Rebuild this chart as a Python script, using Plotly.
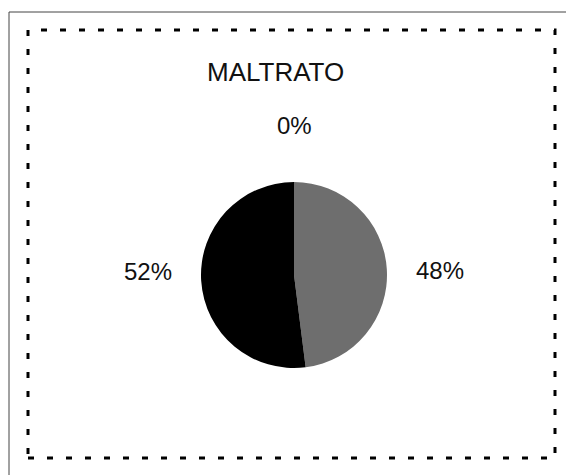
import math
import plotly.graph_objects as go

W, H = 574, 475
OFF = 8  # page body margin shifts the figure by 8px

# slice data, in drawing order clockwise from 12 o'clock
categories = ["Sin dato", "Sí", "No"]
values = [0, 48, 52]
colors = ["#ffffff", "#6e6e6e", "#000000"]
title_text = "MALTRATO"


def px(x):
    return (x - OFF) / W


def py(y):
    return 1 - (y - OFF) / H


# pie geometry in pixels
cx, cy, r = 294, 275, 93
label_r = 146

fig = go.Figure(go.Pie(
    labels=categories, values=values, sort=False, direction="clockwise",
    rotation=0, textinfo="none", hoverinfo="label+percent",
    marker=dict(colors=colors, line=dict(width=0)),
    domain=dict(x=[px(cx - r), px(cx + r)], y=[py(cy + r), py(cy - r)]),
    showlegend=False,
))

# percentage labels placed around the pie at each slice's mid-angle
total = sum(values)
start = 0.0
for v in values:
    frac = v / total
    mid = (start + frac / 2) * 2 * math.pi
    c = math.cos(mid)
    lx = cx + label_r * math.sin(mid)
    ly = cy - 4 - label_r * c * abs(c)
    fig.add_annotation(x=px(lx), y=py(ly), xref="paper", yref="paper",
                       xanchor="center", yanchor="middle",
                       text=f"{round(frac * 100)}%", showarrow=False,
                       font=dict(family="Liberation Sans, Arial", size=24, color="#111"))
    start += frac

fig.add_annotation(x=px(275), y=py(72), xref="paper", yref="paper",
                   xanchor="center", yanchor="middle",
                   text=title_text, showarrow=False,
                   font=dict(family="Liberation Sans, Arial", size=26, color="#111"))

# outer thin frame and dashed chart border
fig.add_shape(type="rect", xref="paper", yref="paper",
              x0=px(9), x1=1.2, y0=-0.2, y1=py(12),
              line=dict(color="#444", width=1))
fig.add_shape(type="rect", xref="paper", yref="paper",
              x0=px(28), x1=px(555), y0=py(458), y1=py(30),
              line=dict(color="#000", width=3, dash="6px,13px"))

fig.update_layout(width=W, height=H, margin=dict(l=0, r=0, t=0, b=0),
                  paper_bgcolor="white", plot_bgcolor="white")
fig.write_html("out.html")
